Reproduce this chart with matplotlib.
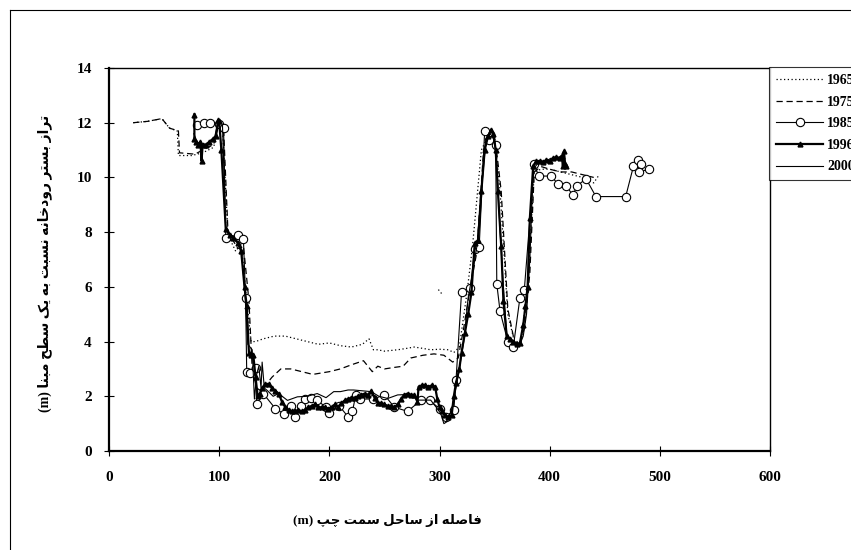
import numpy as np
import matplotlib
matplotlib.use("Agg")
import matplotlib.pyplot as plt
from matplotlib.lines import Line2D

# contextual forms (isolated, final, initial, medial); right-joining letters have no initial/medial
FORMS = {
    'ا': ('\uFE8D', '\uFE8E', None, None),
    'ب': ('\uFE8F', '\uFE90', '\uFE91', '\uFE92'),
    'پ': ('\uFB56', '\uFB57', '\uFB58', '\uFB59'),
    'ت': ('\uFE95', '\uFE96', '\uFE97', '\uFE98'),
    'چ': ('\uFB7A', '\uFB7B', '\uFB7C', '\uFB7D'),
    'ح': ('\uFEA1', '\uFEA2', '\uFEA3', '\uFEA4'),
    'خ': ('\uFEA5', '\uFEA6', '\uFEA7', '\uFEA8'),
    'د': ('\uFEA9', '\uFEAA', None, None),
    'ر': ('\uFEAD', '\uFEAE', None, None),
    'ز': ('\uFEAF', '\uFEB0', None, None),
    'س': ('\uFEB1', '\uFEB2', '\uFEB3', '\uFEB4'),
    'ص': ('\uFEB9', '\uFEBA', '\uFEBB', '\uFEBC'),
    'ط': ('\uFEC1', '\uFEC2', '\uFEC3', '\uFEC4'),
    'ف': ('\uFED1', '\uFED2', '\uFED3', '\uFED4'),
    'ک': ('\uFB8E', '\uFB8F', '\uFB90', '\uFB91'),
    'ل': ('\uFEDD', '\uFEDE', '\uFEDF', '\uFEE0'),
    'م': ('\uFEE1', '\uFEE2', '\uFEE3', '\uFEE4'),
    'ن': ('\uFEE5', '\uFEE6', '\uFEE7', '\uFEE8'),
    'ه': ('\uFEE9', '\uFEEA', '\uFEEB', '\uFEEC'),
    'و': ('\uFEED', '\uFEEE', None, None),
    'ی': ('\uFBFC', '\uFBFD', '\uFBFE', '\uFBFF'),
}

def shape_fa(text):
    out = []
    for i, c in enumerate(text):
        if c not in FORMS:
            out.append(c)
            continue
        prev = text[i-1] if i > 0 else ''
        nxt = text[i+1] if i + 1 < len(text) else ''
        j_prev = prev in FORMS and FORMS[prev][2] is not None
        j_next = FORMS[c][2] is not None and nxt in FORMS
        iso, fin, ini, med = FORMS[c]
        if j_prev and j_next:
            out.append(med)
        elif j_prev:
            out.append(fin)
        elif j_next:
            out.append(ini)
        else:
            out.append(iso)
    return ''.join(reversed(out))

xlabel_fa = "فاصله از ساحل سمت چپ"
ylabel_fa = "تراز بستر رودخانه نسبت به یک سطح مبنا"

labels = ["1965", "1975", "1985", "1996", "2000"]

x1965 = [22, 35, 48, 55, 62, 63, 75, 85, 95, 100, 103, 108, 115, 120, 125, 129, 133, 140, 150, 160,
         170, 180, 190, 200, 210, 220, 230, 236, 240, 244, 250, 262, 270, 277, 285, 292, 300, 308, 313,
         318, 325, 330, 338, 345, 350, 355, 362, 368, 374, 380, 386, 392, 400, 410, 420, 430, 440, 445,
         np.nan, 299, 302]
y1965 = [12.0, 12.05, 12.15, 11.8, 11.7, 10.8, 10.8, 10.9, 11.1, 12.0, 11.8, 7.9, 7.3, 7.6, 5.5, 4.0,
         4.0, 4.1, 4.2, 4.2, 4.1, 4.0, 3.9, 3.95, 3.85, 3.8, 3.9, 4.1, 3.7, 3.7, 3.65, 3.7, 3.75, 3.8,
         3.75, 3.7, 3.72, 3.7, 3.6, 3.8, 5.8, 7.5, 11.0, 11.6, 11.5, 9.5, 5.0, 4.0, 4.0, 6.0, 10.2, 10.3,
         10.3, 10.2, 10.1, 10.0, 9.8, 10.1, np.nan, 5.9, 5.75]

x1975 = [22, 35, 48, 55, 63, 64, 78, 85, 95, 100, 104, 108, 117, 122, 127, 130, 134, 138, 142, 148,
         156, 165, 175, 185, 200, 210, 220, 231, 239, 244, 250, 258, 267, 274, 285, 295, 304, 312, 317,
         322, 328, 334, 340, 345, 350, 356, 362, 368, 373, 377, 382, 386, 392, 400, 410, 420, 430, 440]
y1975 = [12.0, 12.05, 12.15, 11.8, 11.7, 10.9, 10.85, 11.0, 11.2, 12.0, 11.8, 8.0, 7.4, 7.5, 5.5, 3.0,
         2.3, 2.2, 2.4, 2.7, 3.0, 3.0, 2.9, 2.8, 2.9, 3.0, 3.15, 3.3, 2.9, 3.1, 3.0, 3.05, 3.1, 3.4, 3.5,
         3.55, 3.5, 3.25, 3.4, 4.5, 6.0, 7.3, 11.0, 11.5, 11.6, 9.5, 5.2, 4.0, 3.9, 4.5, 6.5, 10.2, 10.4,
         10.3, 10.2, 10.2, 10.1, 10.0]

x1985 = [80, 86, 92, 100, 104, 106, 117, 122, 124, 125, 128, 133, 134, 140, 151, 159, 165, 169, 174,
         178, 183, 189, 197, 200, 209, 217, 221, 224, 228, 240, 250, 259, 271, 283, 291, 300, 306, 313,
         315, 320, 328, 332, 336, 341, 345, 351, 352, 355, 362, 367, 373, 377, 386, 390, 401, 408, 415,
         421, 425, 433, 442, 469, 476, 480, 483, 481, 490]
y1985 = [11.9, 12.0, 12.0, 11.95, 11.8, 7.8, 7.9, 7.75, 5.6, 2.9, 2.85, 3.05, 1.7, 2.1, 1.55, 1.35,
         1.65, 1.25, 1.65, 1.9, 1.95, 1.85, 1.6, 1.4, 1.65, 1.25, 1.45, 2.05, 1.9, 1.9, 2.05, 1.6, 1.45,
         1.85, 1.85, 1.55, 1.25, 1.5, 2.6, 5.8, 5.95, 7.4, 7.45, 11.7, 11.35, 11.2, 6.1, 5.1, 4.0, 3.8,
         5.6, 5.9, 10.5, 10.05, 10.05, 9.75, 9.7, 9.35, 9.7, 9.95, 9.3, 9.3, 10.4, 10.65, 10.5, 10.2, 10.3]

x1996 = [77.5, 77.5, 79, 81, 83, 84, 85, 88, 91, 94, 97, 99, 100, 102, 106, 110, 113, 117, 120, 123,
         125, 127, 129, 131, 133, 135, 137, 139, 142, 145, 148, 151, 154, 157, 160, 163, 166, 169, 172,
         175, 178, 181, 184, 187, 190, 193, 196, 199, 202, 205, 208, 211, 214, 217, 220, 223, 226, 229,
         232, 235, 238, 241, 244, 247, 250, 253, 256, 259, 262, 265, 268, 271, 274, 277, 280, 281, 284,
         287, 290, 293, 296, 298, 300, 302, 305, 308, 311, 313, 315, 318, 320, 323, 326, 329, 332, 335,
         338, 341, 344, 347, 349, 351, 353, 356, 358, 361, 364, 367, 370, 373, 376, 378, 380, 382, 385,
         388, 391, 394, 397, 400, 403, 406, 409, 411, 412, 413, 414, 415]
y1996 = [12.3, 11.4, 11.3, 11.2, 11.3, 10.6, 11.2, 11.2, 11.3, 11.4, 11.5, 12.1, 12.05, 11.0, 8.1, 7.9,
         7.8, 7.6, 7.3, 6.0, 5.3, 3.6, 3.5, 3.5, 2.7, 2.0, 2.1, 2.3, 2.45, 2.45, 2.3, 2.2, 2.1, 1.8, 1.6,
         1.5, 1.45, 1.45, 1.5, 1.45, 1.5, 1.6, 1.65, 1.7, 1.6, 1.6, 1.6, 1.55, 1.6, 1.7, 1.6, 1.75, 1.85,
         1.9, 1.95, 1.95, 2.0, 2.05, 2.1, 2.05, 2.2, 1.95, 1.75, 1.75, 1.7, 1.65, 1.65, 1.6, 1.7, 1.9,
         2.05, 2.1, 2.05, 2.05, 1.8, 2.35, 2.4, 2.4, 2.35, 2.4, 2.35, 1.9, 1.6, 1.45, 1.3, 1.25, 1.3, 2.0,
         2.5, 3.0, 3.6, 4.3, 5.0, 5.8, 7.6, 7.7, 9.5, 11.0, 11.5, 11.75, 11.6, 11.0, 9.5, 7.5, 5.5, 4.2,
         4.1, 4.0, 3.9, 3.95, 4.6, 5.3, 6.0, 8.5, 10.4, 10.6, 10.6, 10.55, 10.65, 10.6, 10.7, 10.75, 10.7,
         10.8, 10.4, 10.95, 10.5, 10.4]

x2000 = [77, 80, 84, 88, 92, 96, 99, 101, 103, 106, 111, 116, 120, 123, 126, 128, 130, 132, 134, 136,
         138, 139, 141, 144, 149, 154, 162, 171, 180, 189, 197, 204, 210, 217, 222, 230, 238, 245, 253,
         262, 274, 280, 292, 297, 301, 304, 306, 309, 311, 315, 318, 322, 326, 330, 334, 338, 342, 345,
         348, 350, 352, 355, 358, 361, 365, 369, 373, 376, 379, 382, 385, 389, 393, 397, 401, 405, 409, 413]
y2000 = [11.6, 11.3, 11.2, 11.2, 11.3, 11.5, 12.0, 12.1, 11.9, 8.1, 7.9, 7.7, 7.4, 6.0, 3.9, 3.8, 3.7,
         1.9, 2.8, 3.1, 2.3, 3.25, 2.3, 2.2, 2.0, 2.1, 1.85, 1.98, 2.0, 2.1, 1.95, 2.17, 2.17, 2.23, 2.23,
         2.2, 2.17, 2.0, 1.92, 2.05, 2.07, 1.86, 1.86, 1.6, 1.38, 1.0, 1.05, 1.3, 1.5, 2.3, 3.0, 4.0, 5.6,
         6.5, 7.5, 9.5, 11.3, 11.6, 11.7, 11.4, 10.5, 8.0, 6.0, 4.3, 4.0, 3.85, 3.9, 4.2, 5.0, 7.0, 10.3,
         10.5, 10.6, 10.6, 10.7, 10.7, 10.75, 10.8]

plt.rcParams['font.family'] = ['Liberation Serif', 'DejaVu Serif']
plt.rcParams['font.weight'] = 'bold'
fa_family = ['Liberation Serif', 'DejaVu Sans']

fig = plt.figure(figsize=(8.51, 5.5), dpi=100)
ax = fig.add_axes([109/851, 1 - 451/550, (770 - 109)/851, (451 - 68)/550])

ax.plot(x1965, y1965, color='black', lw=0.9, ls=(0, (1, 2)), label=labels[0])
ax.plot(x1975, y1975, color='black', lw=0.9, ls=(0, (5, 3)), label=labels[1])
ax.plot(x1985, y1985, color='black', lw=0.8, marker='o', ms=6, mfc='white', mec='black',
        mew=0.8, label=labels[2])
ax.plot(x1996, y1996, color='black', lw=1.6, marker='^', ms=3.5, label=labels[3])
ax.plot(x2000, y2000, color='black', lw=0.8, label=labels[4])

ax.set_xlim(0, 600)
ax.set_ylim(0, 14)
ax.set_xticks(range(0, 601, 100))
ax.set_yticks(range(0, 15, 2))
ax.tick_params(direction='inout', length=7, width=0.8, labelsize=11)
ax.tick_params(axis='x', pad=11)
ax.tick_params(axis='y', pad=9)
for lab in ax.get_xticklabels() + ax.get_yticklabels():
    lab.set_fontweight('bold')
ax.spines['left'].set_linewidth(1.6)
ax.spines['bottom'].set_linewidth(1.6)
ax.spines['top'].set_linewidth(1.0)
ax.spines['right'].set_linewidth(1.0)

ax.set_xlabel("(m) " + shape_fa(xlabel_fa), family=fa_family, fontsize=9.5, fontweight='bold')
ax.xaxis.set_label_coords((387 - 109)/661, -63/383)
ax.set_ylabel("(m) " + shape_fa(ylabel_fa), family=fa_family, fontsize=10, fontweight='bold')
ax.yaxis.set_label_coords(-57/661, 0.49)

leg = fig.legend(loc='upper left', bbox_to_anchor=(769/851, 1 - 67/550), frameon=True,
                 fontsize=10, handlelength=3.4, labelspacing=0.62, borderaxespad=0,
                 borderpad=0.5, handletextpad=0.3, fancybox=False)
leg.get_frame().set_edgecolor('black')
leg.get_frame().set_linewidth(0.8)
for t in leg.get_texts():
    t.set_fontweight('bold')

# chart area border (cut at right and bottom)
fig.add_artist(Line2D([10/851, 10/851], [0, 1 - 10/550], color='black', lw=0.8))
fig.add_artist(Line2D([10/851, 1], [1 - 10/550, 1 - 10/550], color='black', lw=0.8))

fig.savefig('out.png', dpi=100)
